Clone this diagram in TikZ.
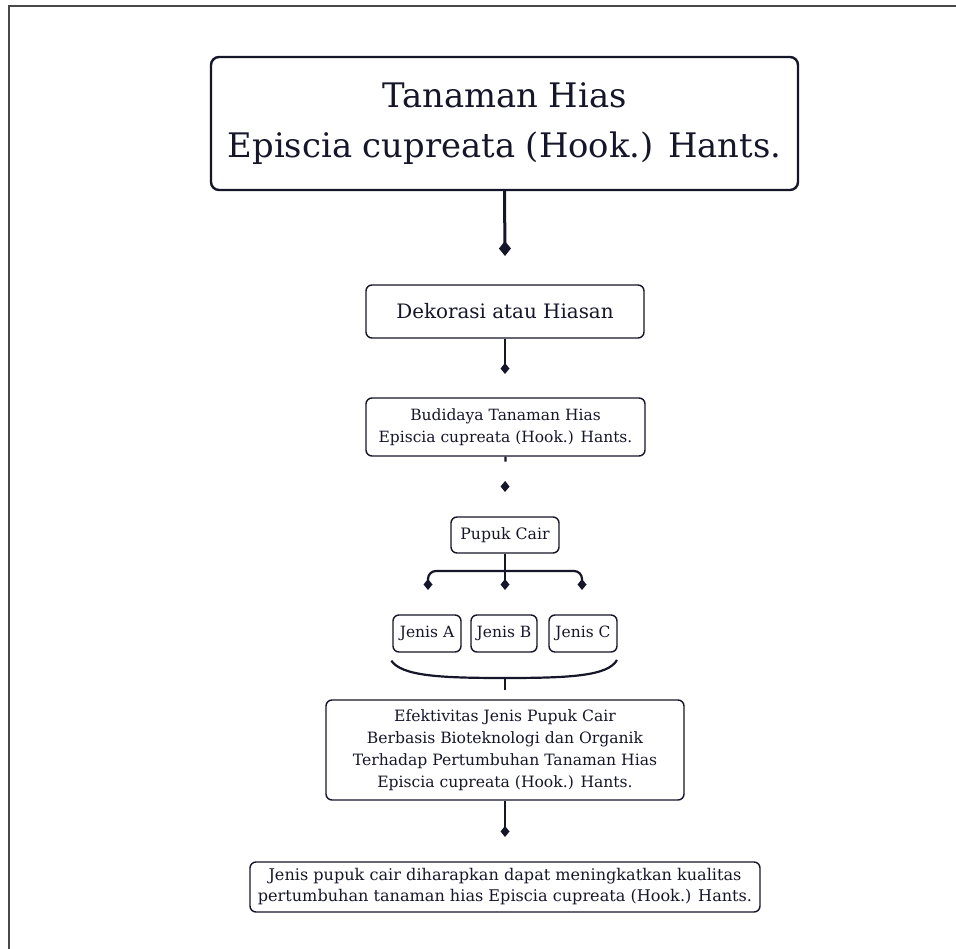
\documentclass[tikz,border=0pt]{standalone}
\usepackage{fontspec}
\setmainfont{DejaVu Serif}
\usetikzlibrary{arrows.meta,positioning}
\definecolor{ink}{RGB}{22,22,42}
\definecolor{rim}{RGB}{72,72,72}

\begin{document}
\begin{tikzpicture}[x=1pt,y=-1pt,
  box/.style={draw=ink,text=ink,rounded corners=6pt,line width=1.4pt,align=center,inner sep=0pt},
  wire/.style={draw=ink,line width=2.2pt},
  tip/.style={-{Diamond[length=11pt,width=9pt]}}]
\useasboundingbox (0,0) rectangle (956,949);
% outer frame
\draw[rim,line width=2pt] (8.5,949) -- (8.5,6.5) -- (956,6.5);

\node[box,line width=2.4pt,rounded corners=8pt,minimum width=587pt,minimum height=133pt,
  font=\fontsize{33.8}{50}\selectfont] (judul) at (504.5,123.5)
  {Tanaman Hias\\Episcia cupreata (Hook.) Hants.};
\node[box,minimum width=278pt,minimum height=53pt,font=\fontsize{19.9}{22}\selectfont]
  (dekor) at (505,311.5) {Dekorasi atau Hiasan};
\node[box,minimum width=279pt,minimum height=58pt,font=\fontsize{15.5}{22}\selectfont]
  (budi) at (505.5,427) {Budidaya Tanaman Hias\\Episcia cupreata (Hook.) Hants.};
\node[box,minimum width=108pt,minimum height=36pt,font=\fontsize{15.7}{20}\selectfont]
  (pupuk) at (505,535) {Pupuk Cair};
\node[box,minimum width=68pt,minimum height=37pt,font=\fontsize{15.5}{20}\selectfont]
  (jA) at (427,633.5) {Jenis A};
\node[box,minimum width=66pt,minimum height=37pt,font=\fontsize{15.5}{20}\selectfont]
  (jB) at (504,633.5) {Jenis B};
\node[box,minimum width=68pt,minimum height=37pt,font=\fontsize{15.5}{20}\selectfont]
  (jC) at (583,633.5) {Jenis C};
\node[box,minimum width=358pt,minimum height=100pt,font=\fontsize{15.6}{22}\selectfont]
  (efek) at (505,750) {Efektivitas Jenis Pupuk Cair\\Berbasis Bioteknologi dan Organik\\
  Terhadap Pertumbuhan Tanaman Hias\\Episcia cupreata (Hook.) Hants.};
\node[box,minimum width=510pt,minimum height=50pt,font=\fontsize{16.1}{21}\selectfont]
  (harap) at (505,887) {Jenis pupuk cair diharapkan dapat meningkatkan kualitas\\
  pertumbuhan tanaman hias Episcia cupreata (Hook.) Hants.};

% connectors
\coordinate (d1) at (505,256);
\coordinate (d2) at (505,374);
\coordinate (d3) at (505,492);
\coordinate (bar) at (505,571);
\coordinate (d5) at (505,837);
\draw[wire,line width=3pt,-{Diamond[length=15pt,width=12pt]}] (judul.south) -- (d1);
\draw[wire,tip] (dekor.south) -- (d2);
\draw[wire,tip,dash pattern=on 5pt off 60pt] (budi.south) -- (d3);
\draw[wire,tip] (pupuk.south) -- (bar) -- (505,590);
\draw[wire,rounded corners=8pt,{Diamond[length=11pt,width=9pt]}-{Diamond[length=11pt,width=9pt]}]
  (428,590) -- (428,571) -- (582,571) -- (582,590);
% brace under the three types
\draw[wire] (jA.south west) ++(-1,8) .. controls (402,676) and (440,678) .. (505,678)
  .. controls (570,678) and (608,676) .. (617,660);
\draw[wire] (505,678) -- (505,690);
\draw[wire,line width=2.6pt,tip] (efek.south) -- (d5);
\end{tikzpicture}
\end{document}
